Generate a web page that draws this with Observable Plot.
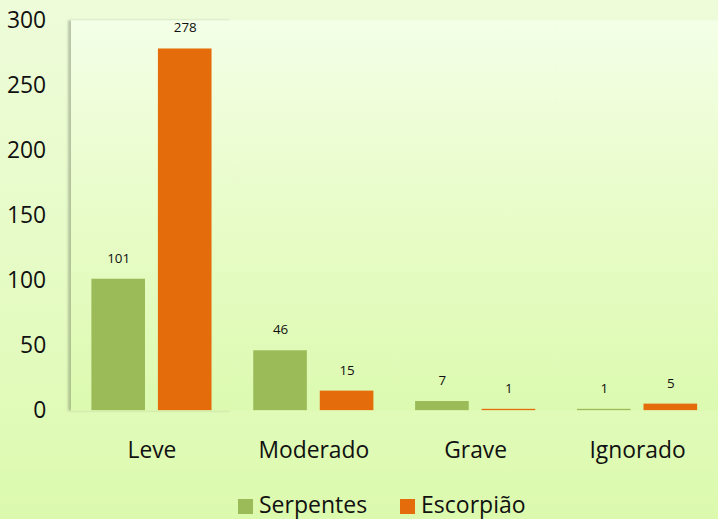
<!DOCTYPE html>
<html><head><meta charset="utf-8">
<script src="https://cdn.jsdelivr.net/npm/d3@7"></script>
<script src="https://cdn.jsdelivr.net/npm/@observablehq/plot@0.6"></script>
<style>
html,body{margin:0;padding:0;}
body{width:718px;height:519px;overflow:hidden;position:relative;
 background:linear-gradient(to bottom,#eefcda 0%,#e6fbc6 50%,#dcfaae 100%);
 font-family:"Open Sans",sans-serif;}
#chart{width:718px;overflow:hidden;}
#legend{position:absolute;left:238px;top:489px;display:flex;gap:0;font-size:23px;color:#111;line-height:30px;white-space:nowrap;}
#legend .item{display:flex;align-items:center;margin-right:33px;}
#legend .sw{width:15px;height:15px;margin-right:6px;margin-top:4px;}
</style></head>
<body>
<div id="chart"></div>
<div id="legend"></div>
<script>
const categories = ["Leve","Moderado","Grave","Ignorado"];
const series = ["Serpentes","Escorpião"];
const serpentes = [101,46,7,1];
const escorpiao = [278,15,1,5];
const yTicks = [0,50,100,150,200,250,300];
const colors = ["#9bbb59","#e46c0a"];

const data = [];
categories.forEach((c,i)=>{
  data.push({cat:c, series:series[0], value:serpentes[i]});
  data.push({cat:c, series:series[1], value:escorpiao[i]});
});

const chart = Plot.plot({
  width: 723,
  height: 470,
  marginTop: 20,
  marginBottom: 57,
  marginLeft: 71,
  marginRight: 0,
  style: {background:"transparent", fontFamily:"'Open Sans', sans-serif", fontSize:"23px", color:"#111", overflow:"visible"},
  fx: {domain: categories, padding: 0, axis: "bottom", label: null, tickSize: 0, tickPadding: 31},
  x: {domain: series, paddingInner: 0.2, paddingOuter: 0.309, axis: null},
  y: {domain: [0,300], ticks: yTicks, tickSize: 0, tickPadding: 25, label: null},
  color: {domain: series, range: colors},
  marks: [
    Plot.frame({fill: "url(#plotGrad)", stroke: "none"}),
    Plot.barY(data, {fx:"cat", x:"series", y:"value", fill:"series"}),
    Plot.text(data, {fx:"cat", x:"series", y:"value", text: d=>String(d.value), dy:-21, fontSize:13.5, fill:"#111"}),
    Plot.ruleY([0], {stroke:"#8c8c8c", strokeWidth:2})
  ]
});

const svg = d3.select(chart.tagName.toLowerCase()==="svg" ? chart : chart.querySelector("svg"));
const defs = svg.insert("defs", ":first-child");
const g = defs.append("linearGradient").attr("id","plotGrad").attr("x1",0).attr("y1",0).attr("x2",0).attr("y2",1);
g.append("stop").attr("offset","0%").attr("stop-color","#f4ffe7");
g.append("stop").attr("offset","50%").attr("stop-color","#e8fcc8");
g.append("stop").attr("offset","100%").attr("stop-color","#dcfab0");
const f = defs.append("filter").attr("id","sh").attr("x","-10%").attr("y","-10%").attr("width","120%").attr("height","120%");
f.append("feDropShadow").attr("dx",-3).attr("dy",0).attr("stdDeviation",1).attr("flood-color","#000").attr("flood-opacity",0.22);
const f2 = defs.append("filter").attr("id","sh2").attr("x","-10%").attr("y","-200%").attr("width","120%").attr("height","500%");
f2.append("feDropShadow").attr("dx",0).attr("dy",2).attr("stdDeviation",1.5).attr("flood-color","#000").attr("flood-opacity",0.3);
const frames = svg.selectAll("g[aria-label='frame'] rect").nodes();
if (frames.length) d3.select(frames[0]).attr("filter","url(#sh)");
svg.selectAll("g[aria-label='rule'] line").attr("filter","url(#sh2)");
svg.selectAll("g[aria-label='y-axis tick label'] text, g[aria-label='fx-axis tick label'] text").attr("fill","#111");

document.getElementById("chart").appendChild(chart);

const legend = document.getElementById("legend");
series.forEach((s,i)=>{
  const it = document.createElement("div"); it.className="item";
  const sw = document.createElement("span"); sw.className="sw"; sw.style.background=colors[i];
  const t = document.createElement("span"); t.textContent = s;
  it.appendChild(sw); it.appendChild(t); legend.appendChild(it);
});
</script>
</body></html>
